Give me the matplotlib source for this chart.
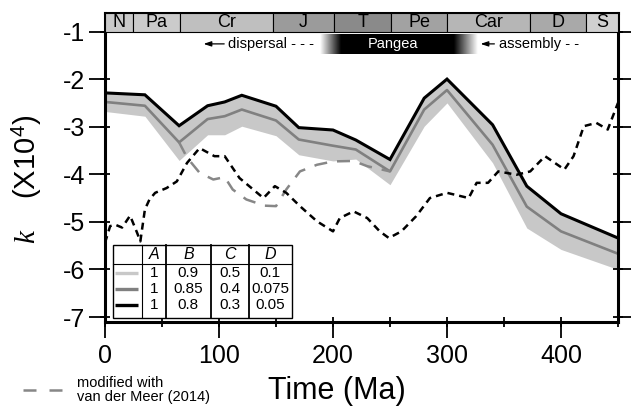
import numpy as np
import matplotlib
matplotlib.use("Agg")
import matplotlib.pyplot as plt
from matplotlib.patches import Rectangle
from matplotlib.lines import Line2D

plt.rcParams['font.family'] = ['Liberation Sans', 'DejaVu Sans']
plt.rcParams['axes.unicode_minus'] = False
plt.rcParams['mathtext.fontset'] = 'custom'
plt.rcParams['mathtext.it'] = 'Liberation Serif:italic'
plt.rcParams['mathtext.rm'] = 'Liberation Sans'

# geologic periods (Ma)
period_names = ['N', 'Pa', 'Cr', 'J', 'T', 'Pe', 'Car', 'D', 'S']
period_edges = [0, 25, 66, 147, 201, 251, 300, 373, 422, 450]
period_colors = ['#c9c9c9', '#cbcbcb', '#bfbfbf', '#9b9b9b', '#8a8a8a',
                 '#a2a2a2', '#b6b6b6', '#a9a9a9', '#d0d0d0']

# model curves
t_model = [0, 35, 65, 90, 105, 120, 150, 170, 200, 220, 250, 280, 300, 340, 370, 400, 450]
k_black = [-2.29, -2.33, -2.98, -2.56, -2.48, -2.34, -2.57, -3.02, -3.07, -3.28, -3.69,
           -2.40, -2.00, -2.96, -4.25, -4.83, -5.34]
k_grey = [-2.48, -2.56, -3.33, -2.84, -2.78, -2.64, -2.87, -3.27, -3.40, -3.48, -3.94,
          -2.64, -2.23, -3.38, -4.68, -5.20, -5.67]
k_light = [-2.68, -2.78, -3.71, -3.17, -3.17, -2.99, -3.19, -3.59, -3.72, -3.68, -4.22,
           -2.99, -2.50, -3.76, -5.13, -5.58, -6.00]

# dashed black curve
t_dash = [0, 4.5, 9, 15, 22, 28, 31, 35, 39, 44, 54, 63, 72, 83, 96, 105, 118, 139, 149,
          159, 171, 186, 200, 206, 218, 230, 241, 249, 260, 273, 285, 300, 319, 326, 336,
          345, 361, 373, 386, 403, 411, 420, 431, 441, 450]
k_dash = [-5.44, -5.09, -5.06, -5.12, -4.87, -5.22, -5.41, -4.74, -4.53, -4.39, -4.29,
          -4.15, -3.76, -3.45, -3.62, -3.62, -4.08, -4.50, -4.25, -4.39, -4.67, -4.99,
          -5.20, -4.92, -4.78, -4.92, -5.20, -5.34, -5.20, -4.88, -4.50, -4.39, -4.50,
          -4.18, -4.18, -3.94, -4.01, -3.94, -3.62, -3.90, -3.62, -2.99, -2.92, -3.06, -2.50]

# grey dashed (modified with van der Meer 2014)
t_vdm = [65, 72, 83, 95, 105, 112, 124, 140, 150, 159, 171, 186, 200, 218, 230, 250]
k_vdm = [-3.33, -3.65, -3.97, -4.11, -4.06, -4.32, -4.53, -4.66, -4.67, -4.32, -3.94,
         -3.80, -3.73, -3.72, -3.83, -3.94]

# legend table
table_head = ['A', 'B', 'C', 'D']
table_vals = [['1', '0.9', '0.5', '0.1'],
              ['1', '0.85', '0.4', '0.075'],
              ['1', '0.8', '0.3', '0.05']]
table_colors = ['#c8c8c8', '#808080', 'black']

fig = plt.figure(figsize=(6.31, 4.09), dpi=100)
fig.subplots_adjust(left=0.1664, right=0.9794, bottom=0.2127, top=0.9682)
ax = fig.add_subplot(111)
ytop = -0.611
ax.set_xlim(0, 450)
ax.set_ylim(-7.105, ytop)

# curves
ax.fill_between(t_model, k_light, k_black, color='#c8c8c8', lw=0, zorder=1)
ax.plot(t_model, k_grey, color='#808080', lw=1.9, zorder=2)
ax.plot(t_model, k_black, color='black', lw=2.2, zorder=3, solid_joinstyle='miter')
ax.plot(t_vdm, k_vdm, color='#878787', lw=1.8, dashes=(5.2, 4.0), zorder=4)
ax.plot(t_dash, k_dash, color='black', lw=1.8, dashes=(2.8, 2.0), zorder=5)

# period bar
for name, x0, x1, c in zip(period_names, period_edges[:-1], period_edges[1:], period_colors):
    ax.add_patch(Rectangle((x0, -1), x1 - x0, ytop + 1, facecolor=c, edgecolor='black',
                           lw=0.8, zorder=6, clip_on=False))
    ax.text((x0 + x1) / 2, (-1 + ytop) / 2 - 0.01, name, ha='center', va='center',
            fontsize=13, zorder=7)

# Pangea gradient
xs = np.linspace(188.6, 327, 400)
grad = np.interp(xs, [188.6, 207, 306, 327], [0, 1, 1, 0])
ax.imshow(grad[np.newaxis, :], extent=(188.6, 327, -1.473, -1.053), aspect='auto',
          cmap='gray_r', vmin=0, vmax=1, interpolation='bilinear', zorder=6)
ax.text(252.6, -1.265, 'Pangea', color='white', ha='center', va='center', fontsize=10.5, zorder=7)
ax.annotate('', xy=(84, -1.26), xytext=(107, -1.26),
            arrowprops=dict(arrowstyle='-|>,head_length=0.45,head_width=0.15', color='black', lw=0.9))
ax.text(108, -1.26, 'dispersal - - -', ha='left', va='center', fontsize=10.5)
ax.annotate('', xy=(327, -1.26), xytext=(344, -1.26),
            arrowprops=dict(arrowstyle='-|>,head_length=0.45,head_width=0.15', color='black', lw=0.9))
ax.text(345.5, -1.26, 'assembly - -', ha='left', va='center', fontsize=10.5)

# axes styling
ax.set_xticks([0, 100, 200, 300, 400])
ax.set_xticks(np.arange(0, 451, 50), minor=True)
ax.set_yticks([-1, -2, -3, -4, -5, -6, -7])
ax.set_yticks([-1, -2, -3, -4, -5, -6, -7], minor=True)
ax.xaxis.remove_overlapping_locs = False
ax.yaxis.remove_overlapping_locs = False
ax.tick_params(which='major', direction='out', length=11.5, width=1.3, labelsize=18,
               right=True, top=False, pad=3)
ax.tick_params(which='minor', direction='inout', length=7.5, width=1.3,
               right=True, top=False)
ax.tick_params(axis='x', which='major', pad=4)
for s in ax.spines.values():
    s.set_linewidth(2.2)

ax.set_xlabel('Time (Ma)', fontsize=22)
ax.xaxis.set_label_coords(0.452, -0.175)
ax.set_ylabel(r'$k$    (X10$^4$)', fontsize=21)
ax.yaxis.set_label_coords(-0.118, 0.46)

# legend table (axes fraction)
def axx(px):
    return (px - 105) / 513.0

def axy(py):
    return (322 - py) / 309.0

col_px = [112.7, 141.7, 165.7, 211, 249, 291.7]
row_px = [272.7, 289, 305]
tl, tr, tt, tb = axx(112.7), axx(291.7), axy(245), axy(317.5)
ax.add_patch(Rectangle((tl, tb), tr - tl, tt - tb, transform=ax.transAxes,
                       facecolor='white', edgecolor='black', lw=1.0, zorder=10))
ax.plot([tl, tr], [axy(264), axy(264)], color='black', lw=0.8, transform=ax.transAxes, zorder=11)
for i, cx in enumerate(col_px[1:-1]):
    ax.plot([axx(cx), axx(cx)], [tb, tt], color='black', lw=0.8 if i == 0 else 1.3,
            transform=ax.transAxes, zorder=11)
centers = [(axx(a) + axx(b)) / 2 for a, b in zip(col_px[1:-1], col_px[2:])]
for cx, h in zip(centers, table_head):
    ax.text(cx, axy(254.5), h, ha='center', va='center', fontsize=11.5, style='italic',
            transform=ax.transAxes, zorder=12)
for ry, vals, c in zip(row_px, table_vals, table_colors):
    ax.plot([axx(115), axx(137.7)], [axy(ry), axy(ry)], color=c, lw=2.4,
            transform=ax.transAxes, zorder=12, solid_capstyle='butt')
    for cx, v in zip(centers, vals):
        ax.text(cx, axy(ry), v, ha='center', va='center', fontsize=11,
                transform=ax.transAxes, zorder=12)

# bottom-left legend
fig.add_artist(Line2D([23 / 631, 62 / 631], [1 - 390 / 409, 1 - 390 / 409], color='#878787',
                      lw=1.8, dashes=(5.2, 5.2), transform=fig.transFigure))
fig.text(77 / 631, 1 - 390 / 409, 'modified with\nvan der Meer (2014)', ha='left', va='center',
         fontsize=10.5, linespacing=1.0)

fig.savefig('out.png', dpi=100)
